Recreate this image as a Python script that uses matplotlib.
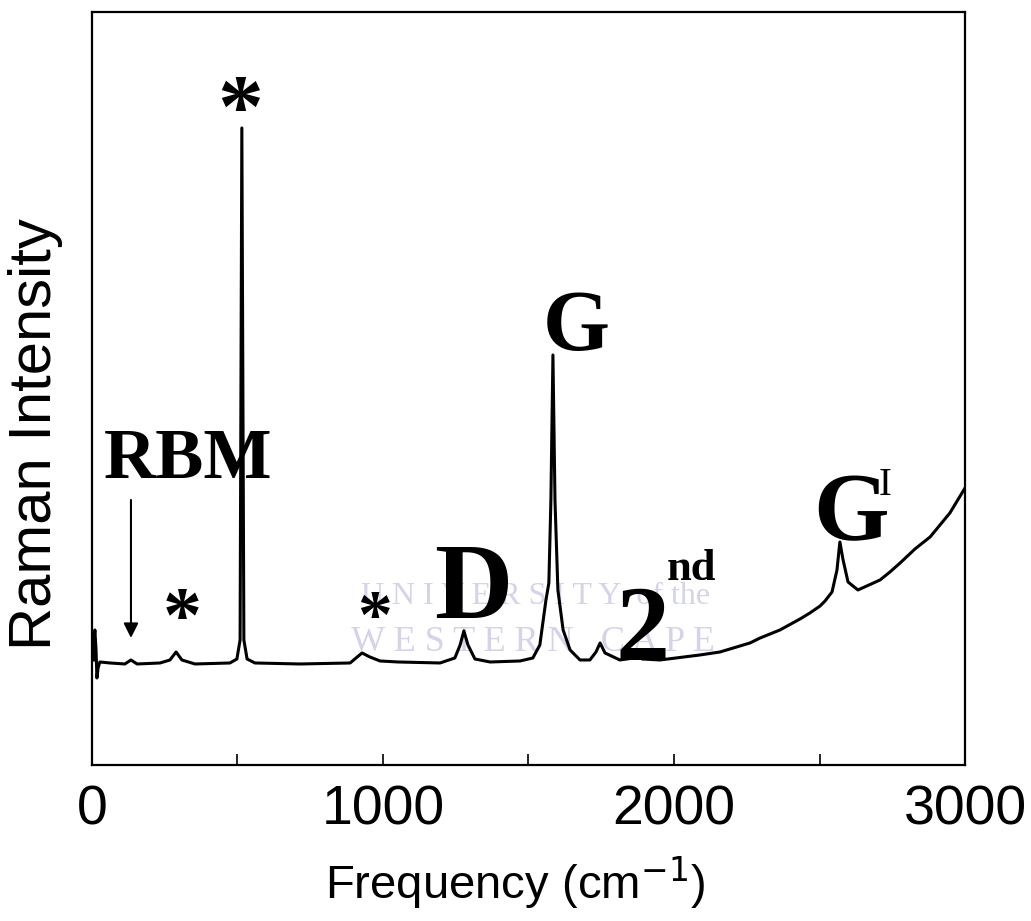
import matplotlib
matplotlib.use("Agg")
import matplotlib.pyplot as plt

# Raman spectrum (x in cm^-1, intensity in arbitrary units)
freq = [5, 7, 10, 14, 17, 21, 27, 62, 113, 134, 155, 234, 268, 289, 309, 354,
        474, 498, 509, 515, 522, 533, 560, 715, 887, 928, 955, 990, 1052, 1196,
        1247, 1265, 1278, 1292, 1316, 1368, 1471, 1515, 1539, 1560, 1570, 1577,
        1584, 1591, 1601, 1619, 1643, 1677, 1711, 1732, 1746, 1763, 1814, 1862,
        1876, 1890, 1952, 2089, 2158, 2261, 2296, 2364, 2433, 2467, 2502, 2519,
        2543, 2560, 2570, 2581, 2598, 2632, 2708, 2742, 2777, 2828, 2880, 2914,
        2948, 3000]
intensity = [105, 125, 135, 115, 87, 97, 103, 102, 101, 105, 101, 102, 105, 113,
             105, 101, 102, 106, 125, 637, 125, 106, 102, 101, 102, 112, 108, 104,
             103, 102, 107, 120, 134, 120, 106, 103, 104, 107, 120, 165, 182, 265,
             410, 265, 175, 135, 115, 105, 105, 113, 122, 112, 105, 107, 115, 106,
             105, 110, 113, 122, 127, 135, 146, 152, 159, 164, 173, 195, 223, 205,
             183, 175, 185, 193, 202, 216, 228, 240, 252, 277]

x_ticks = [0, 1000, 2000, 3000]
x_minor = [500, 1500, 2500]

fig = plt.figure(figsize=(10.31, 9.21), dpi=100)
ax = fig.add_axes([0.0892, 0.1694, 0.8468, 0.8176])

ax.plot(freq, intensity, color="black", lw=2.2)
ax.set_xlim(0, 3000)
ax.set_ylim(0, 753)
ax.set_yticks([])
ax.set_xticks(x_ticks)
ax.set_xticks(x_minor, minor=True)
ax.tick_params(axis="x", which="both", direction="in", length=8, width=1.2, pad=14,
               labelsize=40)
for lab in ax.get_xticklabels():
    lab.set_family("Liberation Sans")
for s in ax.spines.values():
    s.set_linewidth(1.6)

ax.set_xlabel("Frequency (cm$^{-1}$)", fontsize=34, family="Liberation Sans", labelpad=2)
ax.xaxis.set_label_coords(0.485, -0.118)
ax.set_ylabel("Raman Intensity", fontsize=43, family="Liberation Sans")
ax.yaxis.set_label_coords(-0.033, 0.44)

# faint watermark text
wm = dict(family="Liberation Serif", color="#d3d3ea", ha="center", va="center", zorder=0)
ax.text(1525, 168, "U N I V E R S I T Y  of the", fontsize=23, **wm)
ax.text(1515, 122, "W E S T E R N   C A P E", fontsize=26, **wm)

# peak labels
lab = dict(family="Liberation Serif", weight="bold", color="black", ha="center", va="baseline")
ax.text(330, 287, "RBM", fontsize=52, **lab)
ax.text(1665, 415, "G", fontsize=62, **lab)
ax.text(1310, 147, "D", fontsize=78, **lab)
ax.text(1892, 105, "2", fontsize=78, **lab)
ax.text(2059, 185, "nd", fontsize=32, **lab)
ax.text(2610, 225, "G", fontsize=70, **lab)
ax.text(2725, 270, "I", fontsize=28, family="Liberation Serif", color="black",
        ha="center", va="baseline")
ax.text(510, 628, "*", fontsize=66, **lab)
ax.text(310, 125, "*", fontsize=56, **lab)
ax.text(970, 127, "*", fontsize=50, **lab)

ax.annotate("", xy=(134, 127), xytext=(134, 265),
            arrowprops=dict(arrowstyle="-|>", color="black", lw=1.5,
                            mutation_scale=22, shrinkA=0, shrinkB=0))

fig.savefig("out.png", dpi=100)
